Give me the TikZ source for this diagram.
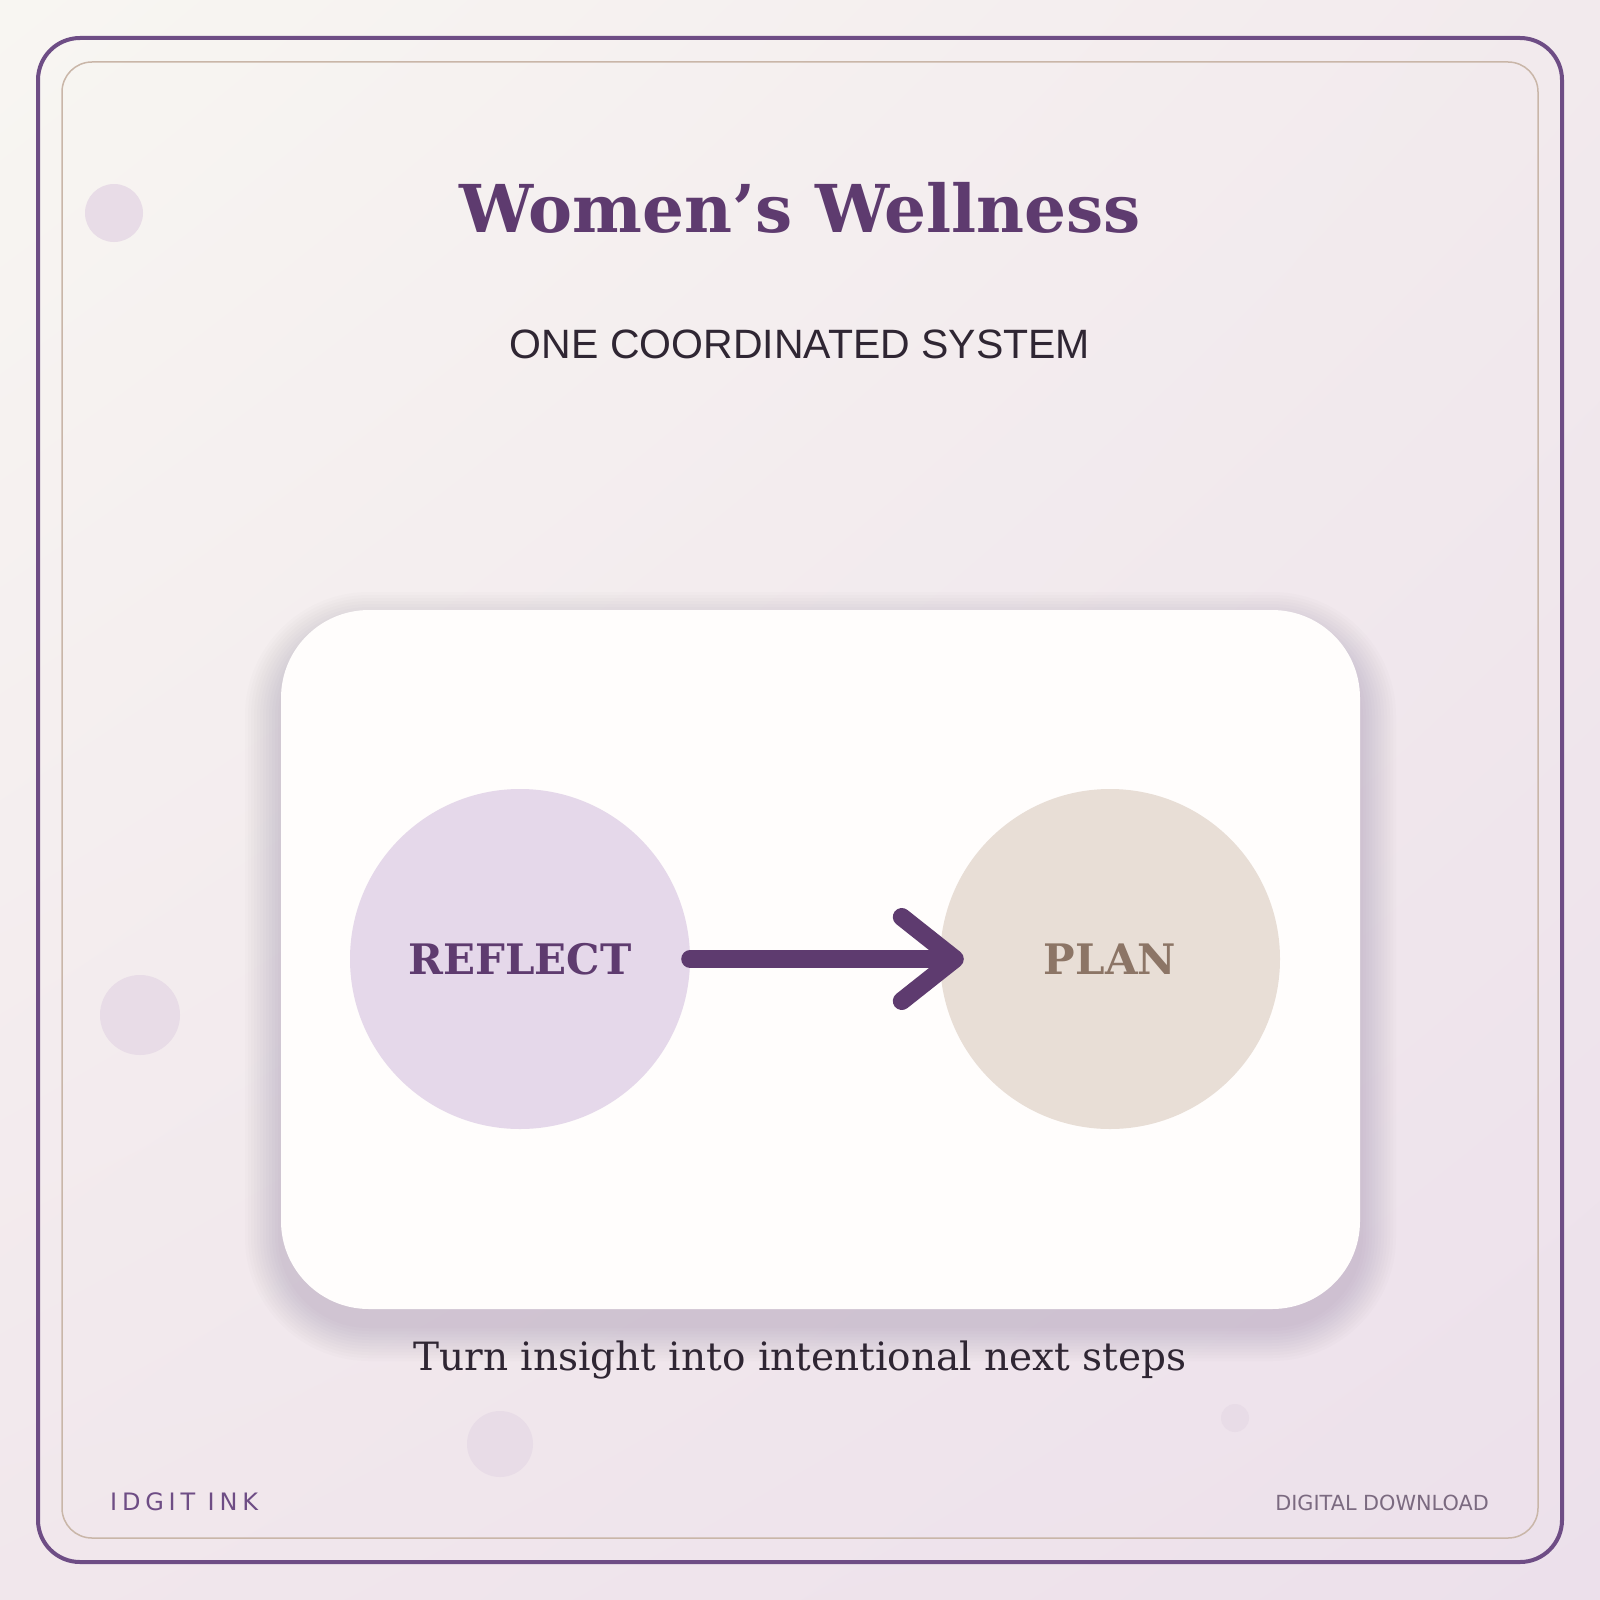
\documentclass[tikz,border=0pt]{standalone}
\usepackage{fontspec}
\setmainfont{DejaVu Serif}
\newfontfamily\subfont{Liberation Sans}
\newfontfamily\footfont{DejaVu Sans}
\newfontfamily\brandfont[LetterSpace=20]{DejaVu Sans}
\usepackage{tikz}
\usetikzlibrary{arrows.meta,positioning,shadings}
\usepackage{xcolor}
\definecolor{plum}{HTML}{5E3B6F}
\definecolor{framepurple}{HTML}{6E4D85}
\definecolor{frametan}{HTML}{C9B6A8}
\definecolor{inkdark}{HTML}{2F2633}
\definecolor{lilac}{HTML}{E5D8EA}
\definecolor{sand}{HTML}{E8DED6}
\definecolor{planbrown}{HTML}{8C7566}
\definecolor{dotpink}{HTML}{E8DCE7}
\definecolor{footgrey}{HTML}{7B6A80}
\definecolor{cardshadow}{HTML}{574566}
\definecolor{cardwhite}{HTML}{FFFDFC}
\definecolor{bgtl}{HTML}{F8F6F2}
\definecolor{bgtr}{HTML}{F2EAED}
\definecolor{bgbl}{HTML}{F1E7EC}
\definecolor{bgbr}{HTML}{ECE0EB}
\tikzset{
  frame/.style = {draw=framepurple, line width=4pt, rounded corners=42pt},
  innerframe/.style = {draw=frametan, line width=1.5pt, rounded corners=30pt},
  card/.style = {rectangle, fill=cardwhite, rounded corners=88pt, minimum width=1079pt,
    minimum height=699pt, inner sep=0pt},
  stage/.style = {circle, minimum size=340pt, inner sep=0pt,
    font=\bfseries\fontsize{42}{44}\selectfont},
  dot/.style = {fill=dotpink},
  flow/.style = {draw=plum, line width=18pt, line cap=round,
    -{Straight Barb[length=53pt, width=84pt, round]}}
}
\begin{document}
\begin{tikzpicture}[x=1pt, y=-1pt]
\useasboundingbox (0,0) rectangle (1600,1600);
\shade[upper left=bgtl, upper right=bgtr, lower left=bgbl, lower right=bgbr]
  (0,0) rectangle (1600,1600);

% frames
\draw[frame] (38,38) rectangle (1562,1562);
\draw[innerframe] (62,62) rectangle (1538,1538);

% decorative dots
\fill[dot] (114,213) circle (29);
\fill[dot] (140,1015) circle (40);
\fill[dot] (500,1444) circle (33);
\fill[dot] (1235,1418) circle (14);

% headings
\node[anchor=base, text=plum, font=\bfseries\fontsize{66}{70}\selectfont]
  (title) at (800,232) {Women’s Wellness};
\node[anchor=base, text=inkdark, font=\subfont\fontsize{41}{46}\selectfont]
  (subtitle) at (800,358) {ONE COORDINATED SYSTEM};

% card with soft shadow
\foreach \s in {3,6,...,36}
  \fill[cardshadow, opacity=0.015, rounded corners={(88+\s)*1pt}]
    (281-\s,628-\s) rectangle (1360+\s,1325+\s);
\node[card] (card) at (820.5,959.5) {};

\node[stage, fill=lilac, text=plum] (reflect) at (520,959) {REFLECT};
\node[stage, fill=sand, text=planbrown] (plan) at (1110,959) {PLAN};
\draw[flow, shorten >=-24pt] (reflect) -- (plan);

\node[anchor=base, text=inkdark, font=\fontsize{39}{44}\selectfont]
  (caption) at (800,1370) {Turn insight into intentional next steps};

% footer
\node[anchor=base west, inner sep=0pt, text=framepurple, font=\brandfont\fontsize{24}{28}\selectfont]
  (brand) at (110,1510) {IDGIT INK};
\node[anchor=base east, inner sep=0pt, text=footgrey, font=\footfont\fontsize{20.8}{24}\selectfont]
  (download) at (1489,1510) {DIGITAL DOWNLOAD};
\end{tikzpicture}
\end{document}
